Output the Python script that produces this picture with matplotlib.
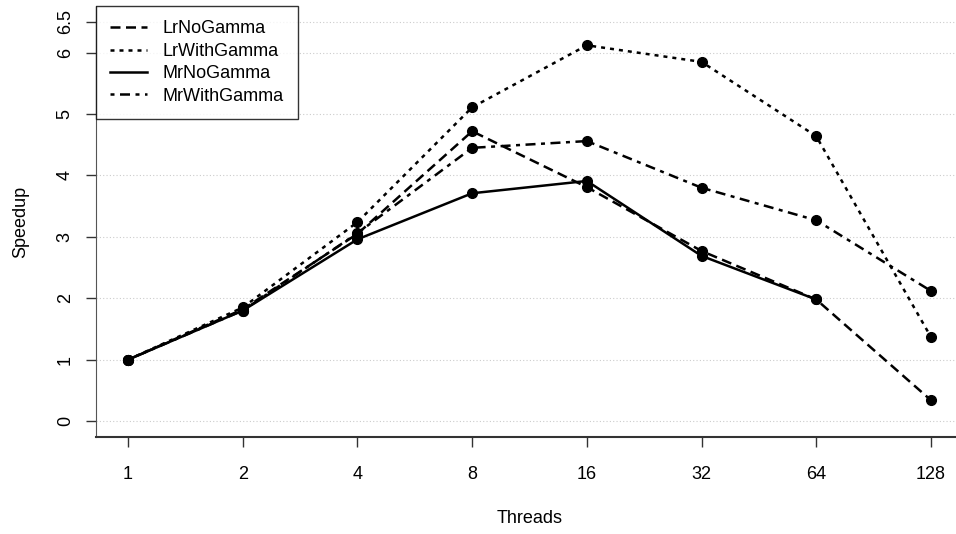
import matplotlib
matplotlib.use("Agg")
import matplotlib.pyplot as plt
import numpy as np

plt.rcParams['font.family'] = ['Liberation Sans', 'DejaVu Sans']

threads = ["1", "2", "4", "8", "16", "32", "64", "128"]
lr_no_gamma = [1.0, 1.82, 3.05, 4.72, 3.81, 2.77, 1.98, 0.34]
lr_with_gamma = [1.0, 1.85, 3.24, 5.11, 6.12, 5.85, 4.64, 1.37]
mr_no_gamma = [1.0, 1.80, 2.96, 3.71, 3.91, 2.69, 1.98, np.nan]
mr_with_gamma = [1.0, 1.80, 3.06, 4.45, 4.56, 3.80, 3.27, 2.12]
yticks = [0, 1, 2, 3, 4, 5, 6, 6.5]

W, H = 956, 534
fig = plt.figure(figsize=(W / 100, H / 100), dpi=100)
left, right, top, bottom = 96, 963, 6, 437
ax = fig.add_axes([left / W, (H - bottom) / H, (right - left) / W, (bottom - top) / H])

x = np.arange(1, len(threads) + 1)
series = [
    ("LrNoGamma", lr_no_gamma, (0, (4, 2.2))),
    ("LrWithGamma", lr_with_gamma, (0, (1.6, 2.0))),
    ("MrNoGamma", mr_no_gamma, "-"),
    ("MrWithGamma", mr_with_gamma, (0, (1.6, 2.2, 4, 2.2))),
]
for name, vals, ls in series:
    ax.plot(x, vals, color="black", linestyle=ls, linewidth=1.8,
            marker="o", markersize=7, label=name)

ax.set_xlim(0.72, 8.28)
ax.set_ylim(-0.26, 6.76)
ax.set_xticks(x)
ax.set_xticklabels(threads, fontsize=13)
ax.set_yticks(yticks)
ax.set_yticklabels([("%g" % v) for v in yticks], fontsize=13, rotation=90, va="center")
for v in yticks:
    ax.axhline(v, color="#cccccc", linestyle=(0, (1, 2)), linewidth=0.8, zorder=0)

ax.spines['top'].set_visible(False)
ax.spines['right'].set_visible(False)
ax.spines['left'].set_color("#555555")
ax.spines['bottom'].set_color("#333333")
ax.spines['bottom'].set_linewidth(1.5)
ax.tick_params(axis='both', direction='out', length=7, width=1, color="#333333")
ax.tick_params(axis='x', pad=14)
ax.tick_params(axis='y', pad=9)

ax.set_xlabel("Threads", fontsize=13, labelpad=19)
ax.set_ylabel("Speedup", fontsize=13, labelpad=20)

leg = ax.legend(loc="upper left", bbox_to_anchor=(0.0, 1.0), frameon=True, fancybox=False,
                edgecolor="black", fontsize=13, handlelength=2.0, borderaxespad=0,
                labelspacing=0.3, borderpad=0.8, handletextpad=0.9)
leg.get_frame().set_linewidth(1.0)
for h in leg.legend_handles:
    h.set_marker("")

fig.savefig("out.png", dpi=100)
